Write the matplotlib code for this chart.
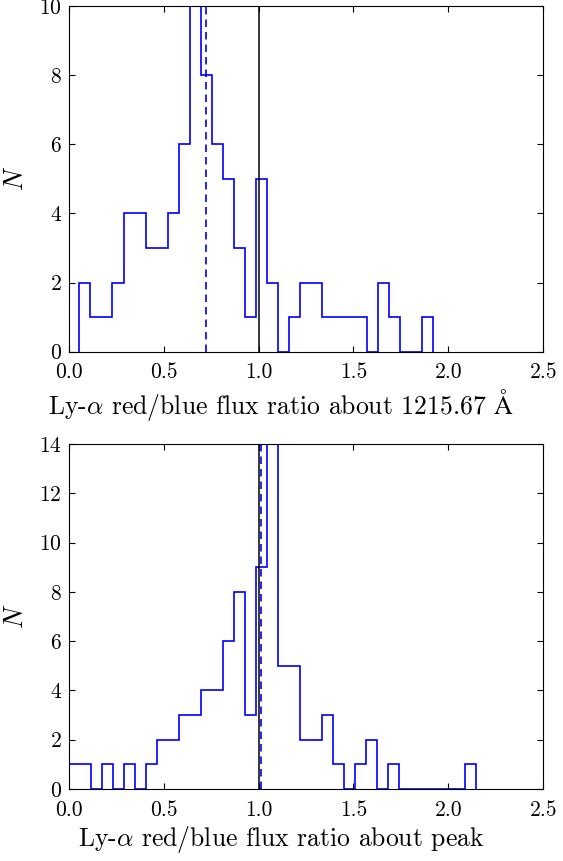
import numpy as np
import matplotlib
matplotlib.use("Agg")
import matplotlib.pyplot as plt

plt.rcParams["font.family"] = ["cmr10", "DejaVu Serif"]
plt.rcParams["mathtext.fontset"] = "cm"
plt.rcParams["axes.formatter.use_mathtext"] = True

# ── Data: histogram counts ───────────────────────────────────────────────
# top panel: red/blue flux ratio about 1215.67 A (32 bins)
top_lo, top_hi = 0.056, 1.918
top_counts = [2, 1, 1, 2, 4, 4, 3, 3, 4, 6, 10, 8, 6, 5, 3, 1,
              5, 2, 0, 1, 2, 2, 1, 1, 1, 1, 0, 2, 1, 0, 0, 1]
top_median = 0.723

# bottom panel: red/blue flux ratio about peak (37 bins)
bot_lo, bot_hi = 0.0, 2.148
bot_counts = [1, 1, 0, 1, 0, 1, 0, 1, 2, 2, 3, 3, 4, 4, 6, 8, 3, 9, 14,
              5, 5, 2, 2, 3, 1, 0, 1, 2, 0, 1, 0, 0, 0, 0, 0, 0, 1]
bot_median = 1.013

xticks = [0.0, 0.5, 1.0, 1.5, 2.0, 2.5]

fig = plt.figure(figsize=(5.63, 8.61), dpi=100)
ax1 = fig.add_axes([0.122, 0.5915, 0.843, 0.4015])
ax2 = fig.add_axes([0.122, 0.0836, 0.843, 0.4007])


def draw(ax, counts, lo, hi, med, ymax, xlabel):
    edges = np.linspace(lo, hi, len(counts) + 1)
    ax.stairs(counts, edges, color="blue", linewidth=1.2, baseline=0)
    ax.axvline(med, color="blue", linestyle=(0, (4.5, 3)), linewidth=1.2)
    ax.axvline(1.0, color="black", linewidth=1.1)
    ax.set_xlim(0, 2.5)
    ax.set_ylim(0, ymax)
    ax.set_xticks(xticks)
    ax.set_xticklabels([f"{t:.1f}" for t in xticks])
    ax.set_yticks(range(0, ymax + 1, 2))
    ax.tick_params(direction="in", top=True, right=True, length=4,
                   labelsize=15.5)
    ax.tick_params(axis="x", pad=8)
    ax.tick_params(axis="y", pad=5)
    ax.set_xlabel(xlabel, fontsize=18.5, labelpad=3)
    ax.xaxis.label.set_x(0.448)   # label sits centred on the figure
    ax.set_ylabel("$N$", fontsize=19, labelpad=8)


draw(ax1, top_counts, top_lo, top_hi, top_median, 10,
     r"Ly-$\alpha$ red/blue flux ratio about 1215.67 $\mathrm{\AA}$")
draw(ax2, bot_counts, bot_lo, bot_hi, bot_median, 14,
     r"Ly-$\alpha$ red/blue flux ratio about peak")

fig.savefig("out.png", dpi=100)
plt.close(fig)
